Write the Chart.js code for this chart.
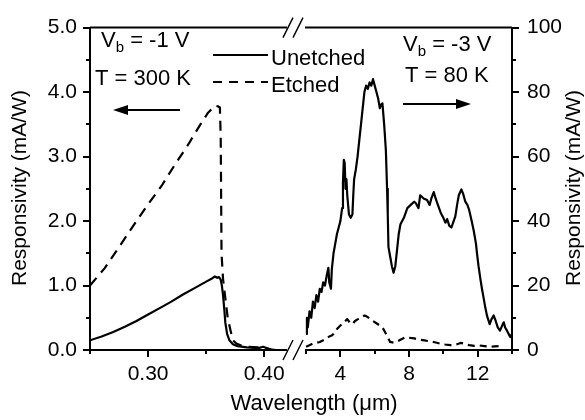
<!DOCTYPE html>
<html>
<head>
<meta charset="utf-8">
<script src="https://cdn.jsdelivr.net/npm/chart.js@4.4.1/dist/chart.umd.min.js"></script>
<style>
  html, body { margin: 0; padding: 0; background: #fff; }
  #chart { display: block; }
</style>
</head>
<body>
<canvas id="chart" width="585" height="420"></canvas>
<script>
// UV part, left axes: wavelength (um) / responsivity (mA/W)
const uvWavelength = [0.25, 0.26, 0.27, 0.28, 0.29, 0.30, 0.31, 0.32, 0.33, 0.34, 0.35, 0.355, 0.3575, 0.3595, 0.361, 0.3625,
  0.3635, 0.3645, 0.3655, 0.3665, 0.368, 0.370, 0.373, 0.377, 0.385, 0.395, 0.399, 0.402, 0.405, 0.41, 0.417];
const uvUnetched = [0.15, 0.21, 0.28, 0.36, 0.45, 0.55, 0.65, 0.75, 0.86, 0.96, 1.06, 1.11, 1.14, 1.12, 1.13, 1.09,
  1.0, 0.85, 0.65, 0.42, 0.25, 0.15, 0.09, 0.06, 0.04, 0.03, 0.05, 0.03, 0.01, 0.0, 0.0];

const uvEtchedWavelength = [0.25, 0.2627, 0.277, 0.2885, 0.30, 0.3114, 0.3229, 0.3343, 0.3444, 0.3516, 0.3544, 0.3573, 0.36,
  0.3618, 0.3625, 0.3632, 0.3645, 0.3665, 0.3685, 0.371, 0.373, 0.376, 0.380, 0.3848, 0.390, 0.3977, 0.402, 0.406];
const uvEtched = [1.0, 1.27, 1.65, 1.96, 2.26, 2.54, 2.87, 3.18, 3.48, 3.68, 3.73, 3.79, 3.78,
  3.76, 3.3, 1.5, 1.1, 0.8, 0.5, 0.3, 0.15, 0.10, 0.07, 0.05, 0.045, 0.04, 0.02, 0.01];

// IR part, right axes
const irWavelength = [2.0, 2.05, 2.1, 2.2, 2.3, 2.4, 2.5, 2.6, 2.7, 2.8, 2.9, 3.0, 3.1, 3.2, 3.3, 3.35, 3.45, 3.5, 3.6, 3.7,
  3.8, 3.9, 4.0, 4.1, 4.15, 4.2, 4.25, 4.3, 4.35, 4.4, 4.5, 4.6, 4.7, 4.75, 4.8, 4.9, 5.0, 5.1, 5.2, 5.3,
  5.4, 5.5, 5.6, 5.7, 5.8, 5.9, 6.0, 6.1, 6.2, 6.3, 6.35, 6.45, 6.55, 6.65, 6.72, 6.76, 6.8, 6.9, 7.0, 7.1,
  7.2, 7.3, 7.4, 7.5, 7.7, 7.9, 8.1, 8.3, 8.4, 8.55, 8.65, 8.85, 9.05, 9.2, 9.3, 9.44, 9.55, 9.65, 9.85, 10.0,
  10.12, 10.22, 10.35, 10.47, 10.6, 10.7, 10.8, 10.9, 11.05, 11.15, 11.28, 11.4, 11.5, 11.65, 11.77, 11.9, 11.96, 12.05, 12.16, 12.25,
  12.35, 12.45, 12.55, 12.7, 12.8, 12.93, 13.05, 13.17, 13.3, 13.42, 13.52, 13.6, 13.71, 13.8, 13.9, 14.0];
const irUnetched = [5, 10, 7, 12, 10, 15, 13, 17, 15, 19, 18, 21, 20, 23, 25.5, 21, 19, 25, 30, 33,
  36, 38, 40, 44, 52, 59, 58, 50, 53, 48, 42, 41, 42, 48, 53, 56, 60, 65, 70, 75,
  80, 82, 81, 83, 82, 84, 82, 80, 78, 75, 76, 76.5, 70, 62, 50, 42, 32, 29, 26, 24,
  26, 31, 36, 39, 41, 44, 45, 46, 45.5, 44, 48, 47, 46.5, 45, 47, 49, 47, 45.5, 42.5, 41,
  39.5, 40.6, 38.5, 38, 40, 41.5, 45, 48, 49.8, 48.5, 46, 45, 43.5, 40, 37, 33, 30, 26, 22, 19,
  16, 13, 10.5, 8, 9.5, 10.7, 9, 7, 6, 7.5, 8.6, 7, 6, 5, 4, 5];

const irEtchedWavelength = [2.0, 2.2, 2.4, 2.6, 2.8, 3.0, 3.2, 3.35, 3.5, 3.6, 3.8, 4.0, 4.2, 4.4, 4.55, 4.7, 4.85, 5.0, 5.2, 5.4,
  5.5, 5.7, 5.9, 6.1, 6.3, 6.45, 6.6, 6.75, 6.9, 7.1, 7.3, 7.5, 7.8, 8.0, 8.3, 8.6, 8.9, 9.2, 9.5, 9.8,
  10.1, 10.4, 10.7, 11.0, 11.2, 11.5, 11.8, 12.1, 12.4, 12.7, 13.0, 13.3];
const irEtched = [1, 1.5, 2, 2.2, 2.5, 3, 3.5, 4.2, 4.5, 5, 6.5, 7.6, 8.5, 9.6, 8.5, 8, 9, 9.5, 10, 10.7,
  10.5, 9.8, 9, 8.3, 7.6, 7, 5.6, 4, 2.5, 2.3, 2.6, 3.2, 4, 3.8, 3.6, 3.2, 3, 2.7, 2.4, 2,
  1.7, 1.5, 1.6, 2.2, 2, 1.5, 1.3, 1.4, 1.2, 1.0, 1.1, 1.2];

// ticks ('' = minor tick)
const uvTicks = [0.25, 0.30, 0.35, 0.40];
const uvTickLabels = ["", "0.30", "", "0.40"];
const irTicks = [2, 4, 6, 8, 10, 12, 14];
const irTickLabels = ["", "4", "", "8", "", "12", ""];
const leftTicks = [0, 0.5, 1, 1.5, 2, 2.5, 3, 3.5, 4, 4.5, 5];
const leftTickLabels = ["0.0", "", "1.0", "", "2.0", "", "3.0", "", "4.0", "", "5.0"];
const rightTicks = [0, 10, 20, 30, 40, 50, 60, 70, 80, 90, 100];
const rightTickLabels = ["0", "", "20", "", "40", "", "60", "", "80", "", "100"];

const FONT = "'Liberation Sans', Arial, sans-serif";

function toPoints(xs, ys) {
  return xs.map((x, i) => ({ x: x, y: ys[i] }));
}

function axis(extra, ticks, labels, size, pad) {
  return Object.assign({
    type: 'linear',
    afterBuildTicks: s => { s.ticks = ticks.map(v => ({ value: v })); },
    afterFit: s => { if (s.isHorizontal()) s.height = size; else s.width = size; },
    ticks: {
      callback: (v, i) => labels[i],
      color: '#000',
      font: { family: FONT, size: 21 },
      autoSkip: false,
      maxRotation: 0,
      padding: pad
    },
    grid: { display: true, drawOnChartArea: false, drawTicks: false },
    border: { display: true, color: '#000', width: 2 }
  }, extra);
}

function line(data, xId, yId, dash) {
  return {
    data: data, xAxisID: xId, yAxisID: yId,
    borderColor: '#000', borderWidth: 2.2, borderDash: dash,
    pointRadius: 0, tension: 0, fill: false, borderJoinStyle: 'round'
  };
}

const decor = {
  id: 'decor',
  afterDraw(chart) {
    const ctx = chart.ctx, a = chart.chartArea;
    ctx.save();
    ctx.strokeStyle = '#000';
    ctx.fillStyle = '#000';
    ctx.lineWidth = 2;

    // outward tick marks
    ['xL', 'xR', 'yL', 'yR'].forEach(id => {
      const s = chart.scales[id];
      s.ticks.forEach(t => {
        const len = t.label ? 7 : 4;
        const p = Math.round(s.getPixelForValue(t.value));
        ctx.beginPath();
        if (id[0] === 'x') { ctx.moveTo(p, a.bottom); ctx.lineTo(p, a.bottom + len); }
        else if (id === 'yL') { ctx.moveTo(a.left, p); ctx.lineTo(a.left - len, p); }
        else { ctx.moveTo(a.right, p); ctx.lineTo(a.right + len, p); }
        ctx.stroke();
      });
    });

    // axis break
    const gapL = chart.scales.xL.right - 9, gapR = chart.scales.xR.left + 9;
    ctx.beginPath();
    ctx.moveTo(a.left, a.top); ctx.lineTo(gapL, a.top);
    ctx.moveTo(gapR, a.top); ctx.lineTo(a.right, a.top);
    ctx.stroke();
    ctx.fillStyle = '#fff';
    ctx.fillRect(gapL, a.bottom - 2, gapR - gapL, 4);
    ctx.fillStyle = '#000';
    ctx.lineWidth = 1.4;
    [a.top, a.bottom].forEach(y => {
      ctx.beginPath();
      ctx.moveTo(gapL - 4, y + 10); ctx.lineTo(gapL + 6, y - 10);
      ctx.moveTo(gapL + 6, y + 10); ctx.lineTo(gapL + 16, y - 10);
      ctx.stroke();
    });

    // axis titles
    ctx.font = '21px ' + FONT;
    ctx.textAlign = 'center';
    ctx.textBaseline = 'middle';
    ctx.save(); ctx.translate(20, 188); ctx.rotate(-Math.PI / 2);
    ctx.fillText('Responsivity (mA/W)', 0, 0); ctx.restore();
    ctx.save(); ctx.translate(574, 188); ctx.rotate(-Math.PI / 2);
    ctx.fillText('Responsivity (mA/W)', 0, 0); ctx.restore();
    ctx.font = '22px ' + FONT;
    ctx.fillText('Wavelength (\u03bcm)', 314, 404);

    // annotations
    ctx.textAlign = 'left';
    ctx.textBaseline = 'alphabetic';
    function vb(x, y, rest) {
      ctx.font = '22px ' + FONT;
      ctx.fillText('V', x, y);
      const w = ctx.measureText('V').width;
      ctx.font = '15px ' + FONT;
      ctx.fillText('b', x + w, y + 5);
      const wb = ctx.measureText('b').width;
      ctx.font = '22px ' + FONT;
      ctx.fillText(rest, x + w + wb, y);
    }
    vb(101, 47, ' = -1 V');
    ctx.fillText('T = 300 K', 95, 85);
    vb(403, 51, ' = -3 V');
    ctx.fillText('T = 80 K', 405, 82);

    // arrows
    ctx.lineWidth = 2;
    ctx.beginPath(); ctx.moveTo(180, 110); ctx.lineTo(124, 110); ctx.stroke();
    ctx.beginPath(); ctx.moveTo(113, 110); ctx.lineTo(128, 105); ctx.lineTo(128, 115); ctx.closePath(); ctx.fill();
    ctx.beginPath(); ctx.moveTo(403, 104); ctx.lineTo(460, 104); ctx.stroke();
    ctx.beginPath(); ctx.moveTo(471, 104); ctx.lineTo(456, 99); ctx.lineTo(456, 109); ctx.closePath(); ctx.fill();

    // legend
    ctx.lineWidth = 2.2;
    ctx.beginPath(); ctx.moveTo(213, 55); ctx.lineTo(268, 55); ctx.stroke();
    ctx.setLineDash([9, 7]);
    ctx.beginPath(); ctx.moveTo(213, 82); ctx.lineTo(268, 82); ctx.stroke();
    ctx.setLineDash([]);
    ctx.font = '22px ' + FONT;
    ctx.fillText('Unetched', 271, 65);
    ctx.fillText('Etched', 271, 92);
    ctx.restore();
  }
};

new Chart(document.getElementById('chart'), {
  type: 'line',
  data: {
    datasets: [
      line(toPoints(uvWavelength, uvUnetched), 'xL', 'yL', []),
      line(toPoints(uvEtchedWavelength, uvEtched), 'xL', 'yL', [10, 7]),
      line(toPoints(irWavelength, irUnetched), 'xR', 'yR', []),
      line(toPoints(irEtchedWavelength, irEtched), 'xR', 'yR', [7, 5])
    ]
  },
  options: {
    responsive: false,
    animation: false,
    devicePixelRatio: 1,
    layout: { padding: { top: 22, left: 0, right: 0, bottom: 0 } },
    plugins: { legend: { display: false }, tooltip: { enabled: false } },
    scales: {
      xL: axis({ axis: 'x', position: 'bottom', stack: 'wl', stackWeight: 206, min: 0.25, max: 0.4273 }, uvTicks, uvTickLabels, 70, 12),
      xR: axis({ axis: 'x', position: 'bottom', stack: 'wl', stackWeight: 216, min: 1.413, max: 14 }, irTicks, irTickLabels, 70, 12),
      yL: axis({ axis: 'y', position: 'left', min: 0, max: 5 }, leftTicks, leftTickLabels, 90, 13),
      yR: axis({ axis: 'y', position: 'right', min: 0, max: 100 }, rightTicks, rightTickLabels, 73, 15)
    }
  },
  plugins: [decor]
});
</script>
</body>
</html>
